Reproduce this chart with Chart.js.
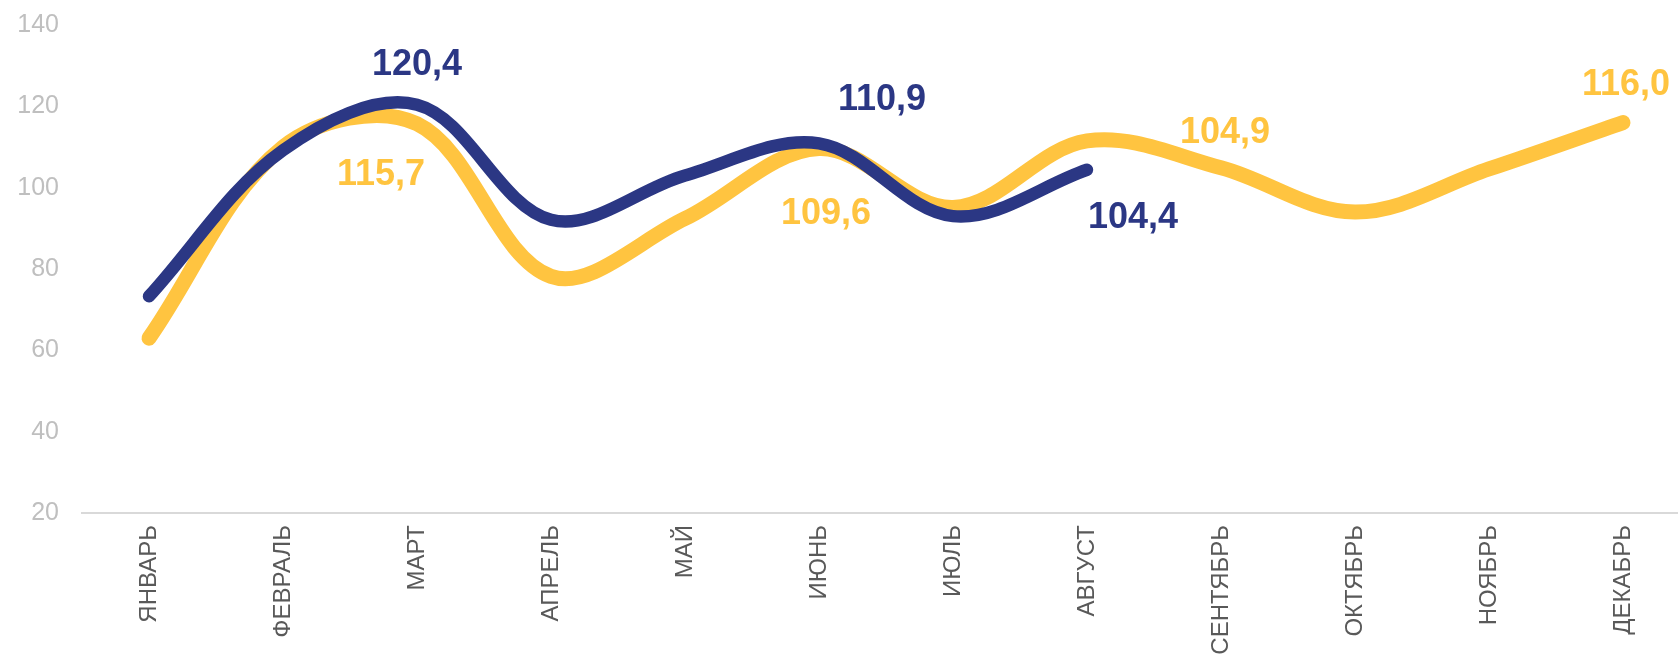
<!DOCTYPE html>
<html>
<head>
<meta charset="utf-8">
<script src="https://cdn.jsdelivr.net/npm/chart.js@4"></script>
<style>
  html, body { margin: 0; padding: 0; background: #fff; overflow: hidden; }
  #wrap { width: 1690px; height: 658px; }
</style>
</head>
<body>
<div id="wrap"><canvas id="chart"></canvas></div>
<script>
// Months (x categories)
const months = ['ЯНВАРЬ', 'ФЕВРАЛЬ', 'МАРТ', 'АПРЕЛЬ', 'МАЙ', 'ИЮНЬ', 'ИЮЛЬ',
                'АВГУСТ', 'СЕНТЯБРЬ', 'ОКТЯБРЬ', 'НОЯБРЬ', 'ДЕКАБРЬ'];

// Previous year (yellow), full year
const prevYear = [63.0, 110.0, 115.7, 78.2, 92.4, 109.6, 95.1, 111.5, 104.9, 94.0, 104.6, 116.0];
// Current year (blue), to August
const curYear = [73.3, 109.2, 120.4, 92.1, 103.0, 110.9, 93.0, 104.4];

// y axis ticks
const yTicks = [20, 40, 60, 80, 100, 120, 140];

// which points carry a value label
const prevLabelIdx = [2, 5, 8, 11];
const curLabelIdx = [2, 5, 7];

const YELLOW = '#FFC440';
const BLUE = '#2B3784';

// label placement relative to its point (px), per labelled index
const prevLabelShift = { 2: [-36, 51], 5: [7, 65], 8: [4, -35], 11: [3, -38] };
const curLabelShift = { 2: [0, -40], 5: [63, -43], 7: [46, 48] };

const fmt = v => v.toFixed(1).replace('.', ',');

// draws the value labels next to chosen points
const valueLabels = {
    id: 'valueLabels',
    afterDatasetsDraw(chart) {
        const ctx = chart.ctx;
        ctx.save();
        ctx.font = 'bold 36px "Liberation Sans", Arial, sans-serif';
        ctx.textAlign = 'center';
        ctx.textBaseline = 'middle';
        chart.data.datasets.forEach((ds, di) => {
            const meta = chart.getDatasetMeta(di);
            ds.labelIdx.forEach(i => {
                const pt = meta.data[i];
                const [dx, dy] = ds.labelShift[i];
                ctx.fillStyle = ds.borderColor;
                ctx.fillText(fmt(ds.data[i]), pt.x + dx, pt.y + dy);
            });
        });
        ctx.restore();
    }
};

new Chart(document.getElementById('chart'), {
    type: 'line',
    data: {
        labels: months,
        datasets: [
            {
                label: 'current',
                data: curYear,
                borderColor: BLUE,
                borderWidth: 12.5,
                borderCapStyle: 'round',
                borderJoinStyle: 'round',
                tension: 0.35,
                pointRadius: 0,
                labelIdx: curLabelIdx,
                labelShift: curLabelShift,
                order: 1
            },
            {
                label: 'previous',
                data: prevYear,
                borderColor: YELLOW,
                borderWidth: 15,
                borderCapStyle: 'round',
                borderJoinStyle: 'round',
                tension: 0.35,
                pointRadius: 0,
                labelIdx: prevLabelIdx,
                labelShift: prevLabelShift,
                order: 2
            }
        ]
    },
    options: {
        responsive: true,
        maintainAspectRatio: false,
        animation: false,
        layout: { padding: { top: 25, right: 0, left: 0, bottom: 0 } },
        plugins: {
            legend: { display: false },
            tooltip: { enabled: false }
        },
        scales: {
            x: {
                offset: true,
                grid: { display: false, drawTicks: false },
                border: { display: true, color: '#d9d9d9', width: 2 },
                ticks: {
                    autoSkip: false,
                    maxRotation: 90,
                    minRotation: 90,
                    padding: 12,
                    color: '#595959',
                    font: { family: '"Liberation Sans", Arial, sans-serif', size: 24 }
                },
                afterFit(scale) { scale.height = 145; }
            },
            y: {
                min: 20,
                max: 140,
                afterBuildTicks(scale) { scale.ticks = yTicks.map(v => ({ value: v })); },
                grid: { display: false, drawTicks: false },
                border: { display: false },
                ticks: {
                    padding: 23,
                    color: '#bfbfbf',
                    font: { family: '"Liberation Sans", Arial, sans-serif', size: 25 }
                },
                afterFit(scale) {
                    scale.width = 82;
                    scale.paddingTop = 0;
                    scale.paddingBottom = 0;
                }
            }
        }
    },
    plugins: [valueLabels]
});
</script>
</body>
</html>
